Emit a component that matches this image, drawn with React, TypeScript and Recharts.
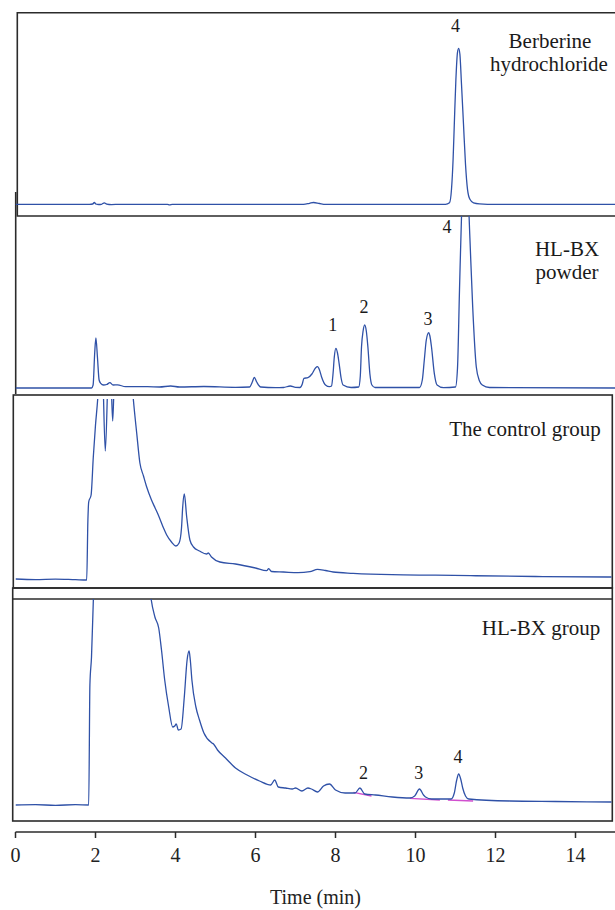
import React from 'react';
import { LineChart, Line, XAxis, YAxis, ReferenceDot, ReferenceLine } from 'recharts';

// retention time (min), detector response (arbitrary units above baseline)
const berberine: [number, number][] = [
  [0, 0], [1.85, 0], [1.93, 0.3], [1.97, 1.8], [2.01, 0.3], [2.08, -0.2], [2.15, 0], [2.22, 1.5],
  [2.28, 0.2], [2.4, -0.3], [2.6, 0], [3.8, 0], [3.85, -0.5], [3.92, 0], [7.2, 0], [7.35, 1],
  [7.45, 1.8], [7.6, 0.8], [7.75, 0], [10.75, 0], [10.85, 1.5], [10.9, 15], [10.94, 45], [10.97, 80],
  [11.01, 125], [11.05, 152], [11.08, 156], [11.11, 150], [11.15, 120], [11.2, 80], [11.25, 40],
  [11.3, 15], [11.36, 5], [11.45, 1.5], [11.6, 0.5], [12, 0], [15, 0],
];

const powder: [number, number][] = [
  [0, 0], [1.9, 0], [1.94, 3], [1.98, 35], [2.01, 50], [2.05, 30], [2.09, 8], [2.13, 4.7], [2.2, 3],
  [2.28, 3.5], [2.36, 5.3], [2.44, 3], [2.55, 3.2], [2.75, 1.3], [3.3, 1.3], [3.6, 1], [3.88, 2],
  [4.1, 1], [4.71, 1.5], [5.5, 0.7], [5.85, 1], [5.92, 6], [5.97, 10.7], [6.03, 6], [6.13, 1],
  [6.5, 0.3], [6.7, 0.5], [6.87, 2], [7.0, 0.6], [7.11, 0.5], [7.17, 4], [7.21, 9.7], [7.31, 10.3],
  [7.41, 14], [7.5, 20], [7.55, 21.3], [7.6, 18], [7.65, 11.3], [7.75, 3], [7.85, 1.3], [7.9, 2],
  [7.94, 15], [7.97, 31], [8.01, 39.7], [8.05, 35], [8.09, 24.7], [8.14, 10], [8.19, 3], [8.39, 0.5],
  [8.58, 1], [8.62, 12], [8.65, 41], [8.69, 57], [8.73, 63], [8.77, 57], [8.81, 41], [8.86, 14],
  [8.91, 3], [8.99, 0.5], [10.1, 0.5], [10.17, 8], [10.22, 28], [10.27, 48], [10.33, 55.3], [10.36, 52],
  [10.4, 41], [10.47, 14.7], [10.54, 3], [10.7, 0.3], [11.0, 1], [11.05, 20], [11.1, 98], [11.16, 185],
  [11.22, 228], [11.26, 230], [11.3, 210], [11.36, 150], [11.43, 81], [11.52, 21], [11.6, 7], [11.67, 3],
  [11.85, 0.5], [15, 0],
];

const control: [number, number][] = [
  [0, 1], [0.5, 0.4], [1.0, 0.9], [1.5, 0.3], [1.78, 0], [1.81, 60], [1.83, 78], [1.89, 85], [1.945, 123],
  [2.0, 155], [2.055, 181], [2.12, 230], [2.17, 220], [2.245, 129], [2.34, 230], [2.39, 200], [2.43, 159],
  [2.47, 200], [2.6, 240], [2.85, 230], [2.945, 181], [3.03, 147], [3.11, 117], [3.2, 104], [3.28, 93],
  [3.4, 80], [3.49, 72], [3.57, 65], [3.7, 52], [3.78, 45], [3.9, 38], [4.01, 34], [4.09, 37], [4.15, 52],
  [4.18, 73], [4.22, 86], [4.28, 63], [4.36, 40], [4.45, 33], [4.6, 29], [4.78, 26], [4.82, 27], [4.9, 23],
  [5.11, 18], [5.5, 16], [6.0, 12], [6.28, 9.3], [6.33, 11.3], [6.4, 8.5], [6.7, 8], [7.06, 7.3],
  [7.36, 8.3], [7.55, 10.7], [7.75, 9.5], [7.94, 8], [8.44, 6.7], [9.41, 5.3], [10.5, 4.8], [11.38, 4.3],
  [13, 3.5], [14.8, 3], [14.9, 3],
];

const hlbxGroup: [number, number][] = [
  [0, 0], [0.5, 0.3], [1.0, -0.3], [1.5, 0.3], [1.83, 0], [1.86, 120], [1.9, 148], [1.95, 210], [2.0, 260],
  [2.3, 280], [3.0, 280], [3.3, 240], [3.39, 206], [3.485, 188], [3.58, 177], [3.65, 155], [3.73, 125],
  [3.83, 98], [3.93, 78], [3.98, 79], [4.02, 81], [4.07, 75], [4.14, 76], [4.22, 108], [4.29, 145],
  [4.34, 154], [4.37, 145], [4.41, 125], [4.51, 98], [4.6, 85], [4.71, 72], [4.91, 62], [4.95, 61],
  [5.05, 55], [5.25, 47], [5.5, 37], [5.79, 30], [6.1, 24], [6.38, 20], [6.48, 25], [6.57, 18], [6.75, 17],
  [6.92, 16], [7.0, 17], [7.16, 14], [7.31, 17], [7.4, 16], [7.55, 13], [7.7, 19], [7.85, 21], [8.0, 15],
  [8.24, 12], [8.49, 12], [8.61, 17], [8.73, 11], [9.0, 10], [9.42, 8], [9.86, 7], [9.98, 9], [10.1, 16],
  [10.2, 10], [10.25, 8], [10.4, 6], [10.89, 6], [10.97, 12], [11.03, 25], [11.08, 31], [11.13, 26],
  [11.18, 17], [11.25, 9], [11.33, 6], [12.36, 4], [13.5, 3.5], [14.9, 3],
];

// integration baselines drawn under the peaks of the HL-BX group
const integration: [number, number, number, number][] = [
  [8.45, 12.7, 8.9, 9],
  [9.86, 6.7, 10.61, 5],
  [10.81, 5, 11.44, 4],
];

const berberinePeaks: [string, number, number][] = [['4', 11.0, 179]];
const powderPeaks: [string, number, number][] = [
  ['1', 7.93, 63], ['2', 8.71, 81], ['3', 10.31, 69], ['4', 10.79, 161],
];
const groupPeaks: [string, number, number][] = [
  ['2', 8.7, 32], ['3', 10.08, 32], ['4', 11.06, 48],
];

const timeTicks = [0, 2, 4, 6, 8, 10, 12, 14];

const FONT = '"Liberation Serif", "DejaVu Serif", serif';
const BLUE = '#2f51a7';
const FRAME = '#2b2b2b';

type TraceProps = {
  points: [number, number][];
  top: number;
  bottom: number;
  base: number;
  peaks?: [string, number, number][];
  withAxis?: boolean;
  cuts?: [number, number, number, number][];
};

const Trace: React.FC<TraceProps> = ({ points, top, bottom, base, peaks = [], withAxis, cuts = [] }) => {
  const rows = points.map(([t, v]) => ({ t, v }));
  const axisH = withAxis ? 78 : 0;
  return (
    <div style={{ position: 'absolute', left: 0, top }}>
      <LineChart
        width={615.5}
        height={bottom - top + axisH}
        data={rows}
        margin={{ top: 0, right: 0, bottom: 0, left: 15.5 }}
      >
        <XAxis
          type="number"
          dataKey="t"
          domain={[0, 15]}
          allowDataOverflow
          ticks={timeTicks}
          interval={0}
          hide={!withAxis}
          height={axisH}
          axisLine={{ stroke: FRAME, strokeWidth: 1.5 }}
          tickLine={{ stroke: FRAME, strokeWidth: 1.5 }}
          tickSize={6}
          tickMargin={10}
          tick={{ fill: '#222', fontSize: 20, fontFamily: FONT }}
          label={{ value: 'Time (min)', position: 'insideBottom', offset: 6, fill: '#222', fontSize: 20, fontFamily: FONT }}
        />
        <YAxis type="number" domain={[base - bottom, base - top]} allowDataOverflow hide />
        {cuts.map(([x1, y1, x2, y2], i) => (
          <ReferenceLine
            key={`cut-${i}`}
            segment={[{ x: x1, y: y1 }, { x: x2, y: y2 }]}
            stroke="#d14fcf"
            strokeWidth={1.3}
          />
        ))}
        <Line dataKey="v" type="monotone" stroke={BLUE} strokeWidth={1.3} dot={false} isAnimationActive={false} />
        {peaks.map(([txt, t, v]) => (
          <ReferenceDot
            key={`pk-${txt}`}
            x={t}
            y={v}
            r={0}
            fill="none"
            stroke="none"
            label={{ value: txt, position: 'center', fill: '#1a1a1a', fontSize: 18, fontFamily: FONT }}
          />
        ))}
      </LineChart>
    </div>
  );
};

const App: React.FC = () => {
  return (
    <div
      style={{
        position: 'absolute', left: 0, top: 0, width: 615, height: 910,
        overflow: 'hidden', background: '#fff',
      }}
    >
      <svg width={615} height={910} style={{ position: 'absolute', left: 0, top: 0 }}>
        <g fill="none" stroke={FRAME} strokeWidth={1.6}>
          <path d="M615 12.7 H17.3 V216 H615" />
          <path d="M15.7 192 V394" />
          <rect x={13.3} y={395} width={599} height={193} />
          <rect x={12.7} y={588} width={599.6} height={233} />
          <path d="M12.7 599 H612.3" />
        </g>
        <g fill="#1a1a1a" fontFamily={FONT} fontSize={21} textAnchor="middle">
          <text x={550} y={48}>Berberine</text>
          <text x={549} y={71}>hydrochloride</text>
          <text x={567} y={256}>HL-BX</text>
          <text x={567} y={279}>powder</text>
          <text x={525} y={436}>The control group</text>
          <text x={541} y={635}>HL-BX group</text>
        </g>
      </svg>
      <Trace points={powder} top={216} bottom={394} base={388} peaks={powderPeaks} />
      <Trace points={berberine} top={13} bottom={216} base={204.3} peaks={berberinePeaks} />
      <Trace points={control} top={399} bottom={588} base={580} />
      <Trace points={hlbxGroup} top={599} bottom={832} base={805} peaks={groupPeaks} withAxis cuts={integration} />
    </div>
  );
};

export default App;
